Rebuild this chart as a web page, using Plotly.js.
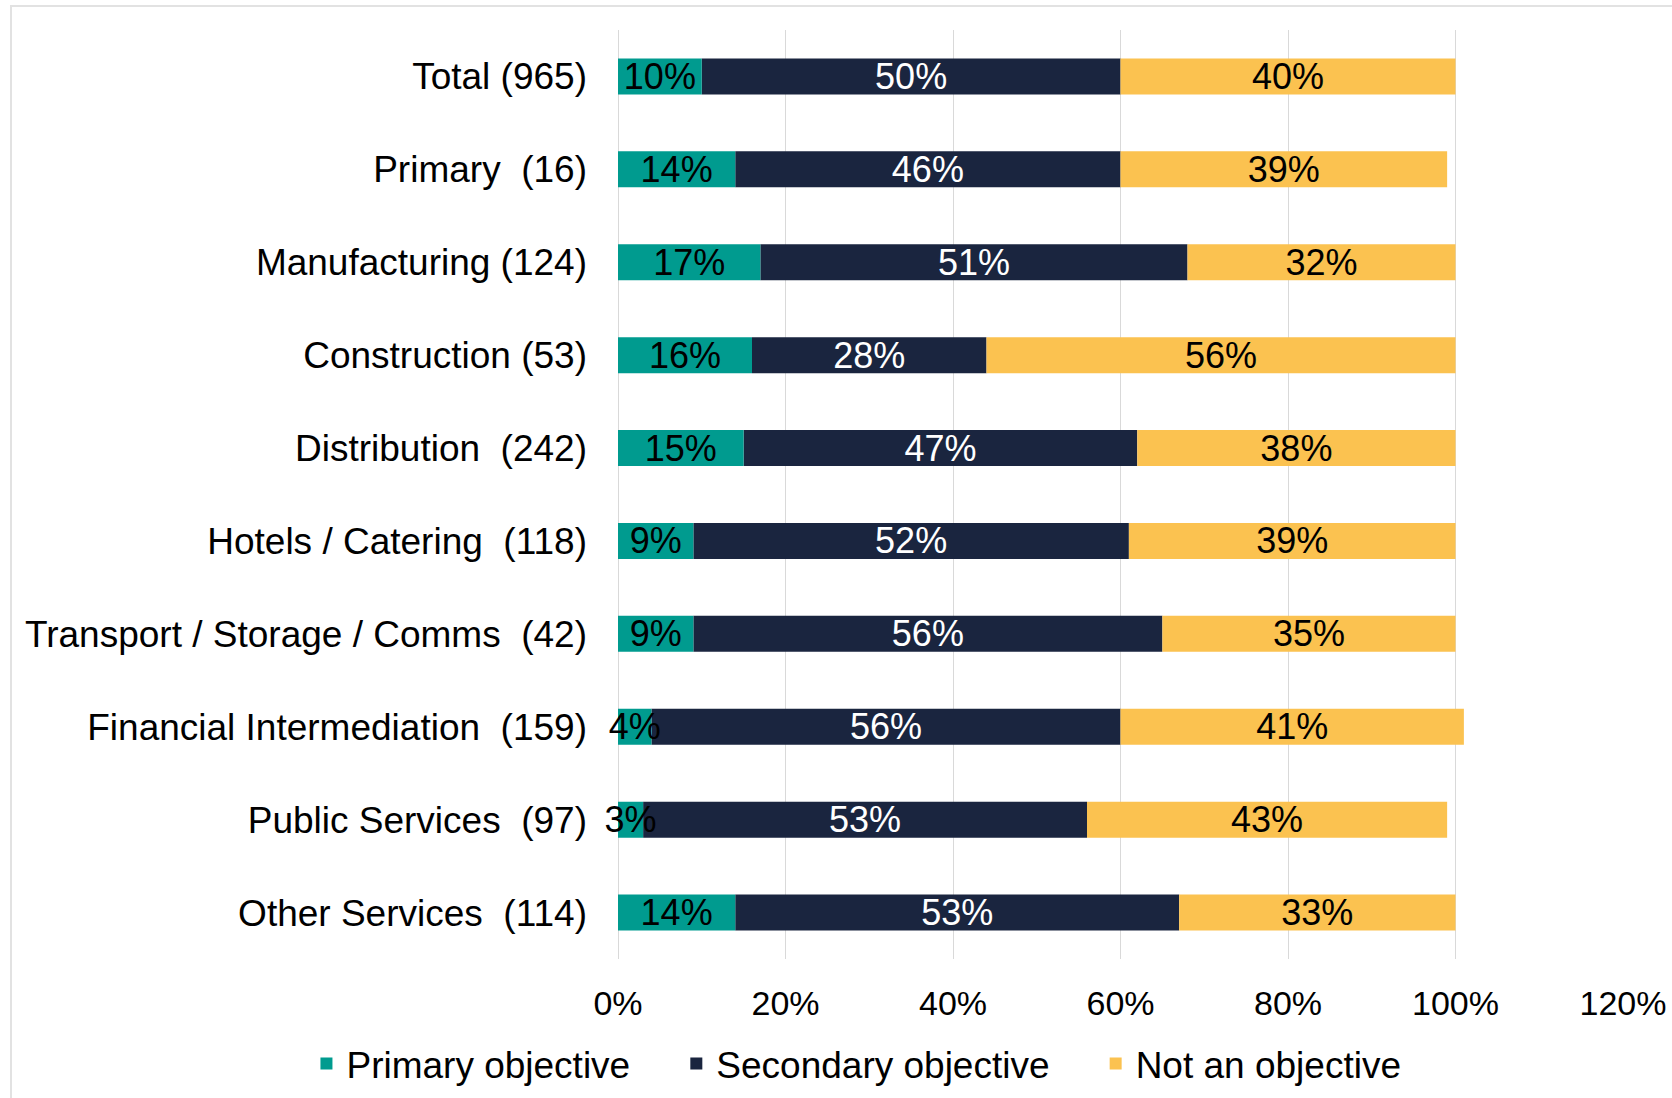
<!DOCTYPE html>
<html>
<head>
<meta charset="utf-8">
<script src="https://cdn.plot.ly/plotly-3.0.1.min.js"></script>
<style>
  html, body { margin: 0; padding: 0; background: #ffffff; }
  #frame { position: absolute; left: 10px; top: 5px; width: 1700px; height: 1200px;
           border-left: 2px solid #e2e2e2; border-top: 2px solid #e2e2e2; box-sizing: border-box; }
  #chart { position: absolute; left: 0; top: 0; width: 1672px; height: 1098px; }
</style>
</head>
<body>
<div id="frame"></div>
<div id="chart"></div>
<script>
const categories = [
  "Total (965)",
  "Primary\u00a0 (16)",
  "Manufacturing (124)",
  "Construction (53)",
  "Distribution\u00a0 (242)",
  "Hotels / Catering\u00a0 (118)",
  "Transport / Storage / Comms\u00a0 (42)",
  "Financial Intermediation\u00a0 (159)",
  "Public Services\u00a0 (97)",
  "Other Services\u00a0 (114)"
];
const primaryObjective   = [0.10, 0.14, 0.17, 0.16, 0.15, 0.09, 0.09, 0.04, 0.03, 0.14];
const secondaryObjective = [0.50, 0.46, 0.51, 0.28, 0.47, 0.52, 0.56, 0.56, 0.53, 0.53];
const notAnObjective     = [0.40, 0.39, 0.32, 0.56, 0.38, 0.39, 0.35, 0.41, 0.43, 0.33];
const seriesNames = ["Primary objective", "Secondary objective", "Not an objective"];
const xTickValues = [0, 0.2, 0.4, 0.6, 0.8, 1.0, 1.2];

const FONT = "'Liberation Sans', Arial, sans-serif";
const pad = "\u00a0\u00a0\u00a0\u00a0";

// stacking bases derived from the data
const baseSecondary = primaryObjective.map(v => v);
const baseNot = primaryObjective.map((v, i) => v + secondaryObjective[i]);
const zeros = primaryObjective.map(() => 0);

function barTrace(name, values, base, color, textColor, rank) {
  return {
    type: "bar",
    orientation: "h",
    name: name,
    y: categories,
    x: values,
    base: base,
    marker: { color: color },
    texttemplate: "%{x:.0%}",
    textposition: "inside",
    insidetextanchor: "middle",
    constraintext: "none",
    textangle: 0,
    cliponaxis: false,
    insidetextfont: { family: FONT, size: 36, color: textColor },
    legendrank: rank,
    hoverinfo: "x+y+name"
  };
}

// primary drawn last so its small labels sit on top of the neighbouring bars
const data = [
  barTrace(seriesNames[1] + pad, secondaryObjective, baseSecondary, "#1A253F", "#ffffff", 2),
  barTrace(seriesNames[2], notAnObjective, baseNot, "#FBC250", "#000000", 3),
  barTrace(seriesNames[0] + pad, primaryObjective, zeros, "#009B8F", "#000000", 1)
];

const layout = {
  width: 1672,
  height: 1098,
  paper_bgcolor: "rgba(0,0,0,0)",
  plot_bgcolor: "rgba(0,0,0,0)",
  font: { family: FONT, size: 36, color: "#000000" },
  barmode: "overlay",
  bargap: 0.612,
  margin: { l: 618, r: 49, t: 30, b: 139, autoexpand: false },
  xaxis: {
    range: [0, 1.2],
    tickvals: xTickValues,
    tickformat: ".0%",
    showgrid: true,
    gridcolor: "#d9d9d9",
    gridwidth: 1,
    zeroline: true,
    zerolinecolor: "#d9d9d9",
    zerolinewidth: 1,
    showline: false,
    ticks: "",
    ticklabelstandoff: 21,
    tickfont: { family: FONT, size: 34, color: "#000000" },
    fixedrange: true
  },
  yaxis: {
    autorange: "reversed",
    type: "category",
    showgrid: false,
    zeroline: false,
    showline: false,
    ticks: "",
    ticklabelstandoff: 30,
    tickfont: { family: FONT, size: 37, color: "#000000" },
    fixedrange: true
  },
  showlegend: true,
  legend: {
    orientation: "h",
    x: -0.31,
    xanchor: "left",
    y: -0.113,
    yanchor: "middle",
    font: { family: FONT, size: 37, color: "#000000" },
    traceorder: "normal",
    bgcolor: "rgba(0,0,0,0)"
  }
};

Plotly.newPlot("chart", data, layout, { displayModeBar: false, staticPlot: true });
</script>
</body>
</html>
